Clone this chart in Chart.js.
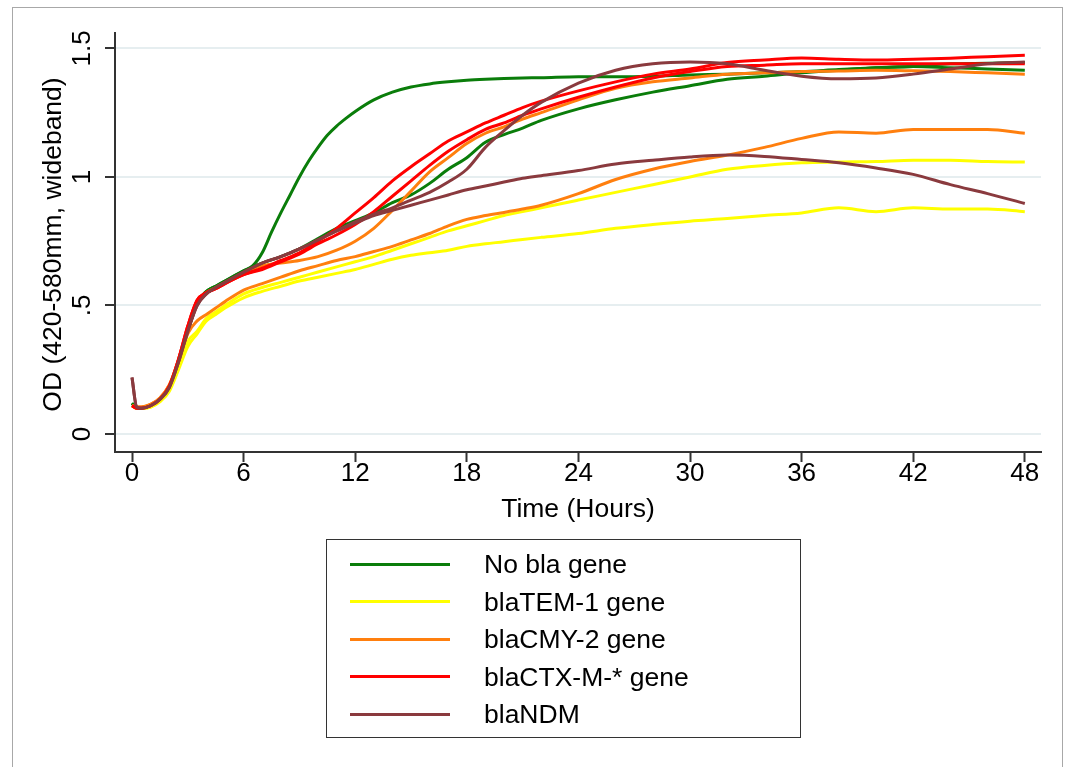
<!DOCTYPE html>
<html>
<head>
<meta charset="utf-8">
<script src="https://cdn.jsdelivr.net/npm/chart.js@4.4.1/dist/chart.umd.min.js"></script>
<style>
html,body{margin:0;padding:0;background:#fff;}
#wrap{position:relative;width:1068px;height:767px;overflow:hidden;font-family:"Liberation Sans",Arial,sans-serif;background:#fff;}
#frame{position:absolute;left:12px;top:7px;width:1051px;height:780px;border:1.5px solid #a8a8a8;box-sizing:border-box;}
canvas{position:absolute;left:0;top:0;}
#legend{position:absolute;left:326px;top:539px;width:475px;height:199px;border:1.5px solid #333;box-sizing:border-box;}
.row{position:absolute;left:0;width:100%;height:0;}
.sw{position:absolute;left:23px;width:100px;height:3px;top:-1.5px;}
.lab{position:absolute;left:157px;top:-15px;font-size:26.5px;line-height:30px;color:#000;white-space:nowrap;}
</style>
</head>
<body>
<div id="wrap">
  <div id="frame"></div>
  <canvas id="c" width="1068" height="767"></canvas>
  <div id="legend"></div>
</div>
<script>
// ---- data ----
const hours = [0,0.25,0.5,1,1.5,2,2.5,3,3.5,4,4.5,5,6,7,8,9,10,11,12,13,14,15,16,17,18,19,20,21,22,24,26,28,30,32,34,36,38,40,42,44,46,48];
const hoursFast = [0,0.25,0.5,1,1.5,2,2.5,3,3.5,4,4.5,5,6,6.5,7,7.5,8,8.5,9,9.5,10,10.5,11,11.5,12,13,14,15,16,17,18,19,20,21,22,24,26,28,30,32,34,36,38,40,42,44,46,48];

const noBla1 = [0.12,0.10,0.10,0.11,0.135,0.18,0.28,0.40,0.51,0.555,0.575,0.595,0.635,0.655,
  0.705,0.785,0.86,0.93,1.00,1.062,1.115,1.162,1.198,1.228,1.255,1.30,1.33,1.35,1.362,1.37,1.376,1.38,1.383,1.385,1.386,1.39,1.39,1.392,1.397,1.40,1.405,1.41,1.418,1.425,1.43,1.44,1.442,1.445];
const noBla2 = [0.12,0.10,0.10,0.11,0.135,0.18,0.28,0.40,0.51,0.555,0.575,0.595,0.635,
  0.665,0.69,0.72,0.76,0.80,0.83,0.86,0.90,0.93,0.975,1.03,1.075,1.135,1.165,1.19,1.22,1.265,1.30,1.33,1.355,1.38,1.392,1.405,1.415,1.425,1.43,1.425,1.42,1.415];

const tem1 = [0.11,0.10,0.10,0.105,0.13,0.17,0.26,0.36,0.40,0.45,0.475,0.50,0.545,
  0.57,0.59,0.61,0.63,0.65,0.67,0.69,0.715,0.74,0.765,0.79,0.81,0.83,0.85,0.865,0.88,0.91,0.94,0.97,1.00,1.03,1.045,1.055,1.058,1.06,1.065,1.065,1.06,1.058];
const tem2 = [0.11,0.10,0.10,0.105,0.125,0.165,0.25,0.34,0.39,0.44,0.465,0.49,0.53,
  0.555,0.575,0.595,0.61,0.625,0.64,0.66,0.68,0.695,0.705,0.715,0.73,0.74,0.748,0.757,0.765,0.78,0.80,0.815,0.828,0.838,0.85,0.86,0.88,0.865,0.88,0.875,0.875,0.865];

const cmy1 = [0.11,0.105,0.105,0.115,0.14,0.19,0.29,0.41,0.51,0.55,0.57,0.59,0.625,
  0.655,0.665,0.675,0.69,0.715,0.75,0.80,0.87,0.945,1.02,1.075,1.13,1.17,1.195,1.225,1.25,1.30,1.345,1.37,1.385,1.40,1.405,1.41,1.412,1.415,1.413,1.41,1.405,1.40];
const cmy2 = [0.11,0.105,0.105,0.115,0.14,0.19,0.28,0.39,0.44,0.465,0.49,0.515,0.56,
  0.585,0.61,0.635,0.655,0.675,0.69,0.71,0.73,0.755,0.78,0.81,0.835,0.85,0.862,0.875,0.89,0.935,0.99,1.03,1.06,1.085,1.115,1.15,1.175,1.17,1.185,1.185,1.185,1.17];

const ctx1 = [0.11,0.10,0.10,0.11,0.135,0.185,0.29,0.42,0.52,0.55,0.565,0.585,0.62,
  0.645,0.675,0.705,0.75,0.80,0.86,0.92,0.985,1.04,1.09,1.14,1.175,1.21,1.24,1.27,1.295,1.335,1.37,1.40,1.42,1.445,1.455,1.463,1.458,1.455,1.458,1.462,1.468,1.473];
const ctx2 = [0.11,0.10,0.10,0.11,0.135,0.185,0.29,0.42,0.52,0.55,0.565,0.585,0.62,
  0.64,0.67,0.70,0.74,0.775,0.815,0.865,0.925,0.985,1.045,1.10,1.145,1.185,1.21,1.24,1.265,1.31,1.35,1.385,1.41,1.43,1.435,1.44,1.44,1.44,1.44,1.44,1.44,1.44];

const ndm1 = [0.22,0.105,0.10,0.11,0.135,0.18,0.28,0.40,0.50,0.545,0.57,0.59,0.63,
  0.665,0.69,0.72,0.755,0.79,0.825,0.855,0.88,0.91,0.94,0.98,1.03,1.115,1.18,1.24,1.29,1.365,1.415,1.44,1.447,1.44,1.415,1.392,1.382,1.385,1.40,1.42,1.44,1.447];
const ndm2 = [0.22,0.105,0.10,0.11,0.135,0.18,0.28,0.40,0.50,0.545,0.57,0.59,0.63,
  0.665,0.69,0.72,0.755,0.79,0.82,0.85,0.87,0.89,0.91,0.93,0.95,0.965,0.98,0.995,1.005,1.025,1.05,1.065,1.078,1.085,1.08,1.068,1.055,1.035,1.01,0.97,0.935,0.897];

const groupLabels = ["No bla gene","blaTEM-1 gene","blaCMY-2 gene","blaCTX-M-* gene","blaNDM"];
const groupColors = ["#0a7d0a","#ffff00","#ff7f0e","#ff0000","#8a3a3e"];
const groupSeries = [
  [[hoursFast, noBla1], [hours, noBla2]],
  [[hours, tem1], [hours, tem2]],
  [[hours, cmy1], [hours, cmy2]],
  [[hours, ctx1], [hours, ctx2]],
  [[hours, ndm1], [hours, ndm2]]
];

const xTicks = [0,6,12,18,24,30,36,42,48];
const yTicks = [0,0.5,1,1.5];
const yTickLabels = ["0",".5","1","1.5"];
const xTitle = "Time (Hours)";
const yTitle = "OD (420-580mm, wideband)";

// ---- build datasets ----
const datasets = [];
groupSeries.forEach((list, g) => {
  list.forEach(([times, vals]) => {
    datasets.push({
      label: groupLabels[g],
      data: times.map((h, i) => ({x: h, y: vals[i]})),
      borderColor: groupColors[g],
      backgroundColor: groupColors[g],
      borderWidth: 3,
      pointRadius: 0,
      fill: false,
      cubicInterpolationMode: 'monotone',
      order: 5 - g
    });
  });
});

const TICKFONT = '26px "Liberation Sans", Arial, sans-serif';
const TITLEFONT = '26.5px "Liberation Sans", Arial, sans-serif';
const textPlugin = {
  id: 'txt',
  afterDraw(chart) {
    const {ctx, scales: {x, y}, chartArea} = chart;
    ctx.save();
    ctx.fillStyle = '#000';
    ctx.font = TICKFONT;
    yTicks.forEach((v, i) => {
      const py = y.getPixelForValue(v);
      ctx.save();
      ctx.translate(90, py);
      ctx.rotate(-Math.PI / 2);
      ctx.textAlign = 'center';
      ctx.textBaseline = 'alphabetic';
      ctx.fillText(yTickLabels[i], 0, 0);
      ctx.restore();
    });
    ctx.textAlign = 'center';
    ctx.textBaseline = 'alphabetic';
    xTicks.forEach(v => {
      ctx.fillText(String(v), x.getPixelForValue(v), 481);
    });
    ctx.font = TITLEFONT;
    ctx.fillText(xTitle, (chartArea.left + chartArea.right) / 2, 517);
    ctx.save();
    ctx.translate(61, (chartArea.top + chartArea.bottom) / 2 + 2);
    ctx.rotate(-Math.PI / 2);
    ctx.fillText(yTitle, 0, 0);
    ctx.restore();
    ctx.restore();
  }
};

new Chart(document.getElementById('c'), {
  type: 'line',
  data: {datasets},
  options: {
    responsive: false,
    animation: false,
    layout: {padding: {left: 0, right: 27, top: 33, bottom: 0}},
    plugins: {legend: {display: false}, tooltip: {enabled: false}},
    scales: {
      x: {
        type: 'linear', min: -0.914, max: 48.87,
        afterFit(s) { s.height = 315; },
        afterBuildTicks(s) { s.ticks = xTicks.map(v => ({value: v})); },
        ticks: {display: false},
        grid: {drawOnChartArea: false, drawTicks: true, tickLength: 10, tickColor: '#333', tickWidth: 2},
        border: {display: true, color: '#333', width: 2}
      },
      y: {
        type: 'linear', min: -0.07, max: 1.56,
        afterFit(s) { s.width = 115; },
        afterBuildTicks(s) { s.ticks = yTicks.map(v => ({value: v})); },
        ticks: {display: false},
        grid: {color: '#e6eef0', lineWidth: 2, drawTicks: true, tickLength: 10, tickColor: '#333', tickWidth: 2},
        border: {display: true, color: '#333', width: 2}
      }
    }
  },
  plugins: [textPlugin]
});

// ---- legend ----
const leg = document.getElementById('legend');
const rowY = [24, 61.5, 99, 136.5, 174];
groupLabels.forEach((lab, i) => {
  const r = document.createElement('div');
  r.className = 'row';
  r.style.top = rowY[i] + 'px';
  const sw = document.createElement('div');
  sw.className = 'sw';
  sw.style.background = groupColors[i];
  const t = document.createElement('div');
  t.className = 'lab';
  t.textContent = lab;
  r.appendChild(sw); r.appendChild(t);
  leg.appendChild(r);
});
</script>
</body>
</html>
